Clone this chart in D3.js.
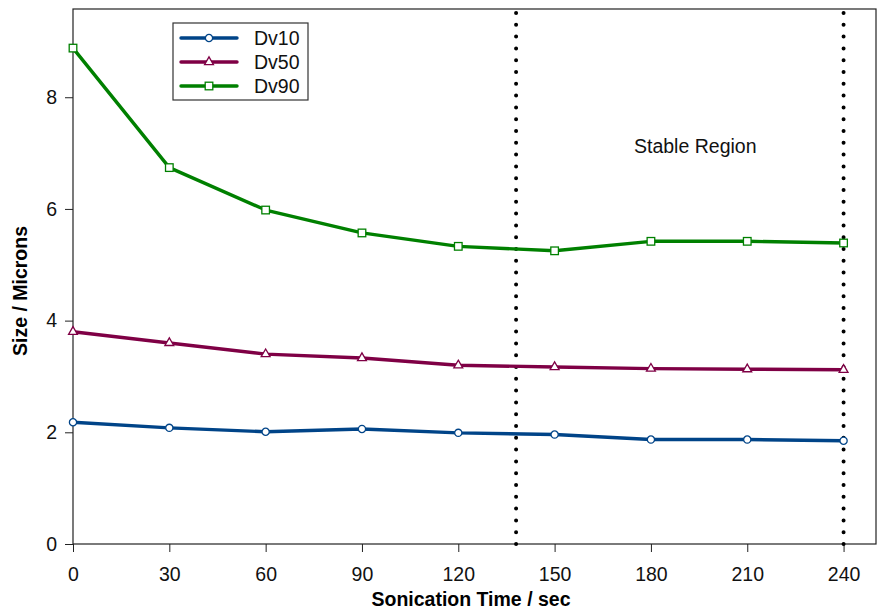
<!DOCTYPE html>
<html>
<head>
<meta charset="utf-8">
<script src="https://cdn.jsdelivr.net/npm/d3@7"></script>
<style>
  body { margin: 0; background: #fff; }
  svg { font-family: "Liberation Sans", Arial, sans-serif; }
</style>
</head>
<body>
<div id="chart"></div>
<script>
// Data
const times = [0, 30, 60, 90, 120, 150, 180, 210, 240];
const dv10 = [2.18, 2.08, 2.01, 2.06, 1.99, 1.96, 1.87, 1.87, 1.85];
const dv50 = [3.80, 3.60, 3.40, 3.33, 3.20, 3.17, 3.14, 3.13, 3.12];
const dv90 = [8.88, 6.74, 5.98, 5.57, 5.33, 5.25, 5.42, 5.42, 5.39];
const xTicks = [0, 30, 60, 90, 120, 150, 180, 210, 240];
const yTicks = [0, 2, 4, 6, 8];
const stableBounds = [138, 240];

const series = [
  { name: "Dv10", values: dv10, color: "#004488", marker: "circle" },
  { name: "Dv50", values: dv50, color: "#7f0045", marker: "triangle" },
  { name: "Dv90", values: dv90, color: "#008000", marker: "square" }
];

const width = 877, height = 610;
const margin = { top: 9, right: 1, bottom: 66, left: 73 };
const fontSize = "19.5px";

const svg = d3.select("#chart").append("svg")
  .attr("width", width)
  .attr("height", height);

const x = d3.scaleLinear()
  .domain([0, 250.1])
  .range([margin.left, width - margin.right]);

const y = d3.scaleLinear()
  .domain([0, 9.58])
  .range([height - margin.bottom, margin.top]);

// frame
svg.append("rect")
  .attr("x", margin.left)
  .attr("y", margin.top)
  .attr("width", width - margin.right - margin.left)
  .attr("height", height - margin.bottom - margin.top)
  .attr("fill", "none")
  .attr("stroke", "#222")
  .attr("stroke-width", 1.2);

// x axis
const xAxis = svg.append("g")
  .attr("transform", `translate(0,${height - margin.bottom})`);
xAxis.call(d3.axisBottom(x).tickValues(d3.range(15, 250, 30)).tickSize(5).tickFormat(""));
xAxis.call(d3.axisBottom(x).tickValues(xTicks).tickSize(8).tickPadding(15));
xAxis.selectAll(".domain").remove();
xAxis.selectAll("text").style("font-size", fontSize).attr("fill", "#111");
xAxis.selectAll("line").attr("stroke", "#222");

// y axis
const yAxis = svg.append("g")
  .attr("transform", `translate(${margin.left},0)`);
yAxis.call(d3.axisLeft(y).tickValues([1, 3, 5, 7, 9]).tickSize(5).tickFormat(""));
yAxis.call(d3.axisLeft(y).tickValues(yTicks).tickSize(8).tickPadding(8));
yAxis.selectAll(".domain").remove();
yAxis.selectAll("text").style("font-size", fontSize).attr("fill", "#111");
yAxis.selectAll("line").attr("stroke", "#222");

// axis titles
svg.append("text")
  .attr("x", 471)
  .attr("y", 606)
  .attr("text-anchor", "middle")
  .style("font-size", fontSize)
  .style("font-weight", "bold")
  .text("Sonication Time / sec");

svg.append("text")
  .attr("transform", "translate(27,291) rotate(-90)")
  .attr("text-anchor", "middle")
  .style("font-size", fontSize)
  .style("font-weight", "bold")
  .text("Size / Microns");

// stable region dotted lines
svg.selectAll(".bound")
  .data(stableBounds)
  .join("line")
  .attr("x1", d => x(d))
  .attr("x2", d => x(d))
  .attr("y1", height - margin.bottom)
  .attr("y2", margin.top + 1)
  .attr("stroke", "#000")
  .attr("stroke-width", 4)
  .attr("stroke-linecap", "round")
  .attr("stroke-dasharray", "0 11.8");

svg.append("text")
  .attr("x", 634)
  .attr("y", 153)
  .style("font-size", fontSize)
  .attr("fill", "#111")
  .text("Stable Region");

const line = d3.line()
  .x((d, i) => x(times[i]))
  .y(d => y(d));

function drawMarker(g, type, color) {
  if (type === "circle") {
    g.append("circle").attr("r", 3.6);
  } else if (type === "triangle") {
    g.append("path").attr("d", d3.symbol(d3.symbolTriangle, 34)());
  } else {
    g.append("rect").attr("x", -3.8).attr("y", -3.8).attr("width", 7.6).attr("height", 7.6);
  }
  g.selectAll("*").attr("fill", "#fff").attr("stroke", color).attr("stroke-width", 1.3);
}

series.forEach(s => {
  svg.append("path")
    .datum(s.values)
    .attr("fill", "none")
    .attr("stroke", s.color)
    .attr("stroke-width", 3.4)
    .attr("stroke-linejoin", "round")
    .attr("d", line);

  svg.append("g").selectAll("g")
    .data(s.values)
    .join("g")
    .attr("transform", (d, i) => `translate(${x(times[i])},${y(d)})`)
    .each(function () { drawMarker(d3.select(this), s.marker, s.color); });
});

// legend
const legend = svg.append("g").attr("transform", "translate(173,23)");
legend.append("rect")
  .attr("width", 135)
  .attr("height", 77)
  .attr("fill", "#fff")
  .attr("stroke", "#333")
  .attr("stroke-width", 1.2);

series.forEach((s, i) => {
  const row = legend.append("g").attr("transform", `translate(0,${15 + i * 24})`);
  row.append("line")
    .attr("x1", 8).attr("x2", 64)
    .attr("stroke", s.color)
    .attr("stroke-width", 3.4)
    .attr("stroke-linecap", "round");
  drawMarker(row.append("g").attr("transform", "translate(36,0)"), s.marker, s.color);
  row.append("text")
    .attr("x", 81)
    .attr("dy", "0.36em")
    .style("font-size", fontSize)
    .attr("fill", "#111")
    .text(s.name);
});
</script>
</body>
</html>
